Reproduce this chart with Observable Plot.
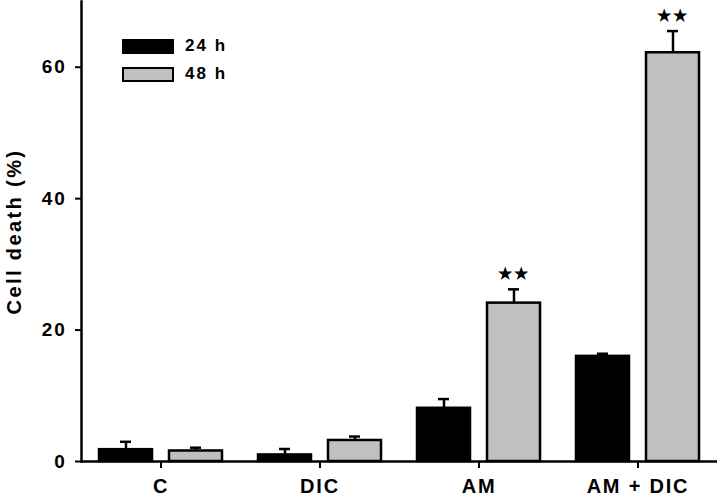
<!DOCTYPE html>
<html>
<head>
<meta charset="utf-8">
<script src="https://cdn.jsdelivr.net/npm/d3@7"></script>
<script src="https://cdn.jsdelivr.net/npm/@observablehq/plot@0.6"></script>
<style>
  html, body { margin: 0; padding: 0; background: #fff; }
  #wrap { position: relative; width: 720px; height: 497px; font-family: "Liberation Sans", Arial, sans-serif; }
  #wrap svg text { letter-spacing: 1.8px; }
  #legend { position: absolute; left: 122px; top: 32px; font-weight: bold; font-size: 17px; letter-spacing: 2px; }
  .item { display: flex; align-items: center; height: 28px; }
  .sw { width: 48px; height: 11px; border: 2px solid #000; margin-right: 11px; }
</style>
</head>
<body>
<div id="wrap"></div>
<script>
const categories = ["C", "DIC", "AM", "AM + DIC"];
const series = ["24 h", "48 h"];
const mean24 = [1.8, 1.0, 8.1, 16.0];
const err24 = [1.2, 0.9, 1.4, 0.4];
const mean48 = [1.6, 3.2, 24.1, 62.2];
const err48 = [0.5, 0.6, 2.1, 3.3];
const stars48 = ["", "", "★★", "★★"];
const yTicks = [0, 20, 40, 60];
const colors = ["#000000", "#c0c0c0"];

const rows = [];
categories.forEach((c, i) => {
  rows.push({cat: c, series: series[0], v: mean24[i], e: err24[i], star: ""});
  rows.push({cat: c, series: series[1], v: mean48[i], e: err48[i], star: stars48[i]});
});
rows.forEach(d => d.top = d.v + d.e);

const chart = Plot.plot({
  width: 720,
  height: 497,
  marginLeft: 79,
  marginRight: 2,
  marginTop: 1,
  marginBottom: 36,
  style: {fontFamily: "Liberation Sans, Arial, sans-serif", fontWeight: "bold", fontSize: "17px", color: "#000", background: "#fff"},
  fx: {domain: categories, padding: 0, label: null},
  x: {domain: series, paddingInner: 0.24, paddingOuter: 0.25, axis: null},
  y: {domain: [0, 70], label: null},
  color: {domain: series, range: colors},
  marks: [
    Plot.barY(rows, {fx: "cat", x: "series", y: "v", fill: "series", stroke: "#000", strokeWidth: 2.5}),
    Plot.ruleX(rows, {fx: "cat", x: "series", y1: "v", y2: "top", stroke: "#000", strokeWidth: 2.5}),
    Plot.tickY(rows, {fx: "cat", x: "series", y: "top", stroke: "#000", strokeWidth: 2.5, insetLeft: 21, insetRight: 21}),
    Plot.text(rows, {fx: "cat", x: "series", y: "top", text: "star", dy: -15, fontSize: 16, fill: "#000"}),
    Plot.ruleY([0], {stroke: "#000", strokeWidth: 2.5}),
    Plot.frame({anchor: "left", facetAnchor: "left", stroke: "#000", strokeWidth: 2.5}),
    Plot.axisY({ticks: yTicks, tickSize: 6, tickPadding: 9, strokeWidth: 2, fontSize: 19, label: "Cell death (%)", labelAnchor: "center", labelArrow: "none", labelOffset: 75, anchor: "left"}),
    Plot.axisFx({anchor: "bottom", tickSize: 7, tickPadding: 10, strokeWidth: 2, fontSize: 20, label: null})
  ]
});

const wrap = document.getElementById("wrap");
wrap.appendChild(chart);
chart.querySelectorAll('g[aria-label="y-axis tick label"] text').forEach(t => { t.style.fontSize = "19px"; });
chart.querySelectorAll("text").forEach(t => {
  if (t.textContent === "Cell death (%)") { t.setAttribute("font-size", "20"); t.style.letterSpacing = "2.4px"; }
});
const legend = document.createElement("div");
legend.id = "legend";
series.forEach((s, i) => {
  const it = document.createElement("div");
  it.className = "item";
  const sw = document.createElement("div");
  sw.className = "sw";
  sw.style.background = colors[i];
  const t = document.createElement("span");
  t.textContent = s;
  it.appendChild(sw);
  it.appendChild(t);
  legend.appendChild(it);
});
wrap.appendChild(legend);
</script>
</body>
</html>
